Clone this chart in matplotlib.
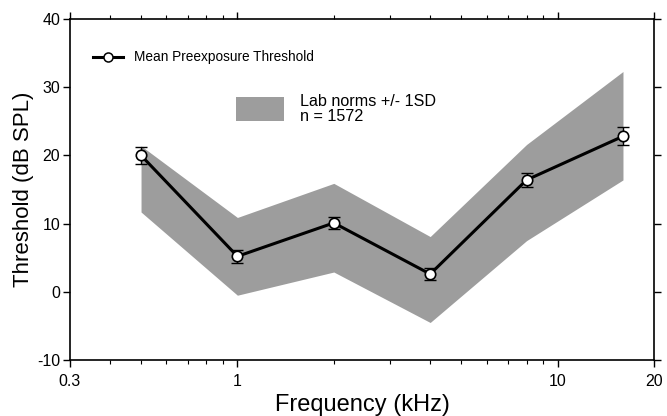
import matplotlib
matplotlib.use("Agg")
from matplotlib import pyplot as plt
from matplotlib.lines import Line2D
from matplotlib.patches import Rectangle
from matplotlib.ticker import FixedLocator, NullFormatter

plt.rcParams['font.family'] = ['Liberation Sans', 'DejaVu Sans']
plt.rcParams['axes.unicode_minus'] = False

# data
freq_khz = [0.5, 1, 2, 4, 8, 16]
mean_threshold = [20.0, 5.2, 10.1, 2.6, 16.4, 22.8]
mean_err = [1.2, 1.0, 0.9, 0.9, 1.0, 1.3]
norm_upper = [21.4, 10.9, 15.9, 8.1, 21.6, 32.3]
norm_lower = [11.7, -0.5, 2.9, -4.5, 7.5, 16.4]

x_ticks = [0.3, 1, 10, 20]
x_tick_labels = ['0.3', '1', '10', '20']
x_minor = [0.4, 0.5, 0.6, 0.7, 0.8, 0.9, 2, 3, 4, 5, 6, 7, 8, 9]
y_ticks = [-10, 0, 10, 20, 30, 40]

band_color = '#9d9d9d'

fig = plt.figure(figsize=(6.67, 4.16), dpi=100)
ax = fig.add_axes([70 / 667, 1 - 360 / 416, 584 / 667, 341 / 416])

ax.fill_between(freq_khz, norm_lower, norm_upper, color=band_color, linewidth=0)
ax.errorbar(freq_khz, mean_threshold, yerr=mean_err, fmt='none', ecolor='black',
            elinewidth=1, capsize=4, capthick=1, zorder=3)
ax.plot(freq_khz, mean_threshold, color='black', linewidth=2.2, marker='o',
        markersize=7.5, markerfacecolor='white', markeredgecolor='black',
        markeredgewidth=1.2, zorder=4)

ax.set_xscale('log')
ax.set_xlim(0.3, 20)
ax.set_ylim(-10, 40)
ax.xaxis.set_major_locator(FixedLocator(x_ticks))
ax.set_xticklabels(x_tick_labels)
ax.xaxis.set_minor_locator(FixedLocator(x_minor))
ax.xaxis.set_minor_formatter(NullFormatter())
ax.set_yticks(y_ticks)

ax.tick_params(axis='both', which='major', direction='out', length=5, width=1,
               labelsize=11.5, top=True, right=True, pad=2)
ax.tick_params(axis='x', which='major', pad=5)
ax.tick_params(axis='x', which='minor', direction='out', length=3.2, width=0.8, top=True)
for s in ax.spines.values():
    s.set_linewidth(1.2)

ax.set_xlabel('Frequency (kHz)', fontsize=17, labelpad=4)
ax.set_ylabel('Threshold (dB SPL)', fontsize=16, labelpad=2)

# legend drawn by hand, in axes coordinates
ax.add_line(Line2D([0.04, 0.091], [0.89, 0.89], transform=ax.transAxes, color='black',
                   linewidth=2.2))
ax.add_line(Line2D([0.0655], [0.89], transform=ax.transAxes, color='black', marker='o',
                   markersize=6.5, markerfacecolor='white', markeredgewidth=1.1))
ax.text(0.11, 0.89, 'Mean Preexposure Threshold', transform=ax.transAxes,
        fontsize=9.8, va='center')
ax.add_patch(Rectangle((0.284, 0.702), 0.082, 0.068, transform=ax.transAxes,
                       color=band_color, linewidth=0))
ax.text(0.394, 0.735, 'Lab norms +/- 1SD\nn = 1572', transform=ax.transAxes,
        fontsize=11.6, va='center', linespacing=1.0)

fig.savefig('out.png', dpi=100)
